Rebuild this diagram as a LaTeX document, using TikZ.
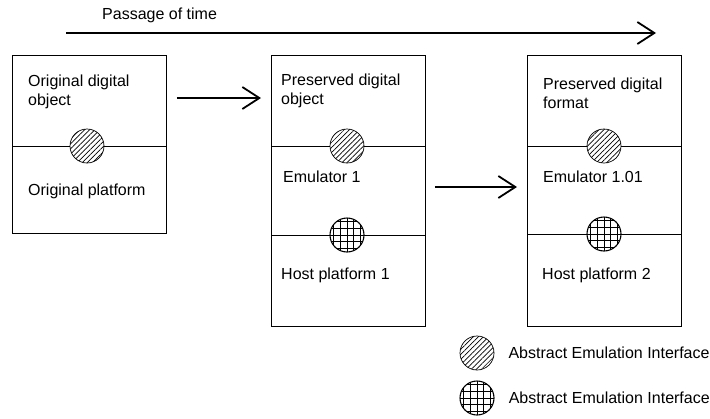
\documentclass[tikz,border=0pt]{standalone}
\usepackage{fontspec}
\setmainfont{Liberation Sans}
\usetikzlibrary{arrows.meta,positioning,calc,patterns.meta}

\begin{document}
\begin{tikzpicture}[x=1pt, y=-1pt, >={Straight Barb[length=17pt,width=22pt]}, font=\fontsize{16}{19}\selectfont]
\tikzstyle{box}=[draw, line width=0.9pt, anchor=north west, minimum width=154pt, inner sep=0pt]
\tikzstyle{aei}=[circle, draw, line width=0.7pt, minimum size=34pt, inner sep=0pt, preaction={fill=white}, pattern={Lines[angle=45,distance=3.6pt,line width=0.7pt]}]
\tikzstyle{hei}=[circle, draw, line width=1.1pt, minimum size=34pt, inner sep=0pt, fill=white,
  path picture={\draw[line width=0.9pt, shift={(path picture bounding box.center)}] (-20pt,-20pt) grid[step=6.6pt] (20pt,20pt);}]
\tikzstyle{txt}=[anchor=west, align=left, inner sep=0pt]
\tikzstyle{go}=[->, line width=1.8pt]
\useasboundingbox (0,0) rectangle (710,418);

% passage of time
\coordinate (t0) at (66,33);
\coordinate (t1) at (656,33);
\draw[go] (t0) -- (t1);
\node[txt] (pt) at (102,15) {Passage of time};

% the three stages
\node[box, minimum height=178pt] (A) at (12,55) {};
\node[box, minimum height=271pt] (B) at (271,55) {};
\node[box, minimum height=271pt] (C) at (527,55) {};

\coordinate (ia) at (87,146);
\coordinate (ib) at (347,146);
\coordinate (jb) at (347,235);
\coordinate (ic) at (604,146);
\coordinate (jc) at (604,234);
\draw[line width=0.9pt] (A.west |- ia) -- (A.east |- ia);
\draw[line width=0.9pt] (B.west |- ib) -- (B.east |- ib);
\draw[line width=0.9pt] (B.west |- jb) -- (B.east |- jb);
\draw[line width=0.9pt] (C.west |- ic) -- (C.east |- ic);
\draw[line width=0.9pt] (C.west |- jc) -- (C.east |- jc);
\node[aei] (IA) at (ia) {};
\node[aei] (IB) at (ib) {};
\node[hei] (JB) at (jb) {};
\node[aei] (IC) at (ic) {};
\node[hei] (JC) at (jc) {};

\node[txt] (a1) at (28,91.5) {Original digital\\object};
\node[txt] (a2) at (28,191) {Original platform};
\node[txt] (b1) at (281,91) {Preserved digital\\object};
\node[txt] (b2) at (283,177) {Emulator 1};
\node[txt] (b3) at (281,275) {Host platform 1};
\node[txt] (c1) at (543,93.5) {Preserved digital\\format};
\node[txt] (c2) at (543,177) {Emulator 1.01};
\node[txt] (c3) at (542,275) {Host platform 2};

\draw[go] ($(A.north east)+(10,43)$) -- ($(B.north west)+(-10,43)$);
\draw[go] ($(B.north east)+(9,132)$) -- ($(C.north west)+(-10,132)$);

% legend
\node[aei] (LA) at (477,353) {};
\node[hei] (LB) at (477,398) {};
\node[txt, right=14pt of LA] (la) {Abstract Emulation Interface};
\node[txt, right=14pt of LB] (lb) {Abstract Emulation Interface};
\end{tikzpicture}
\end{document}
